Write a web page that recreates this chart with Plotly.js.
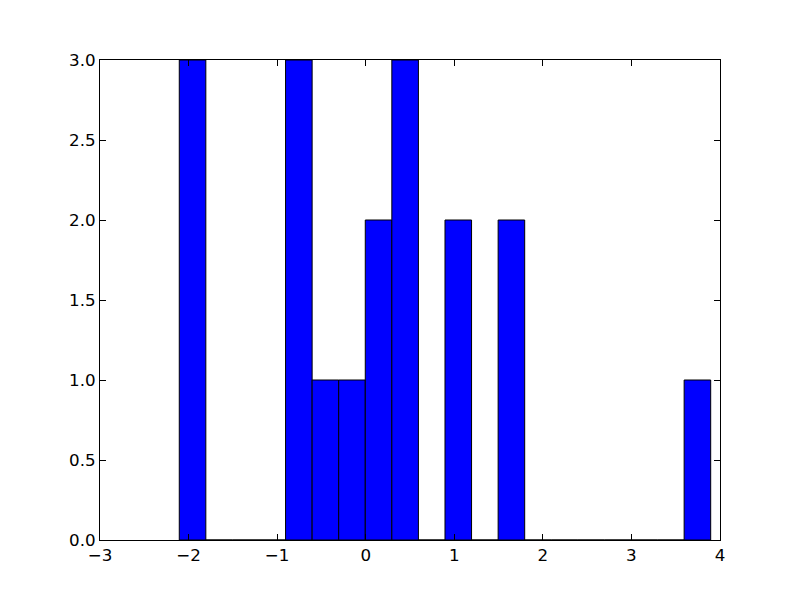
<!DOCTYPE html>
<html>
<head>
<meta charset="utf-8">
<script src="https://cdn.plot.ly/plotly-3.0.1.min.js"></script>
<style>html,body{margin:0;padding:0;background:#fff;}#chart{width:800px;height:600px;}</style>
</head>
<body>
<div id="chart"></div>
<script>
// Histogram bins
const binStart = -2.105;
const binWidth = 0.3;
const counts = [3, 0, 0, 0, 3, 1, 1, 2, 3, 0, 2, 0, 2, 0, 0, 0, 0, 0, 0, 1];
const xTicks = [-3, -2, -1, 0, 1, 2, 3, 4];
const yTicks = [0.0, 0.5, 1.0, 1.5, 2.0, 2.5, 3.0];

const centers = counts.map((c, i) => binStart + binWidth * (i + 0.5));

const trace = {
  type: 'bar',
  x: centers,
  y: counts,
  width: binWidth,
  marker: {color: '#0000ff', line: {color: '#000000', width: 1}},
  hoverinfo: 'x+y'
};

const axisCommon = {
  showgrid: false,
  zeroline: false,
  showline: true,
  linecolor: '#000',
  linewidth: 1,
  mirror: 'ticks',
  ticks: 'inside',
  ticklen: 6,
  tickcolor: '#000',
  tickwidth: 1,
  tickfont: {family: 'DejaVu Sans', size: 16.7, color: '#000'}
};

const layout = {
  width: 800,
  height: 600,
  margin: {l: 100, r: 80, t: 60, b: 60, pad: 0},
  paper_bgcolor: '#fff',
  plot_bgcolor: '#fff',
  showlegend: false,
  bargap: 0,
  xaxis: Object.assign({}, axisCommon, {
    range: [-3, 4],
    tickmode: 'array',
    tickvals: xTicks,
    ticktext: xTicks.map(v => v < 0 ? '\u2212' + Math.abs(v) : String(v))
  }),
  yaxis: Object.assign({}, axisCommon, {
    range: [0, 3],
    tickmode: 'array',
    tickvals: yTicks,
    ticktext: yTicks.map(v => v.toFixed(1))
  })
};

Plotly.newPlot('chart', [trace], layout, {displayModeBar: false, staticPlot: true});
</script>
</body>
</html>
